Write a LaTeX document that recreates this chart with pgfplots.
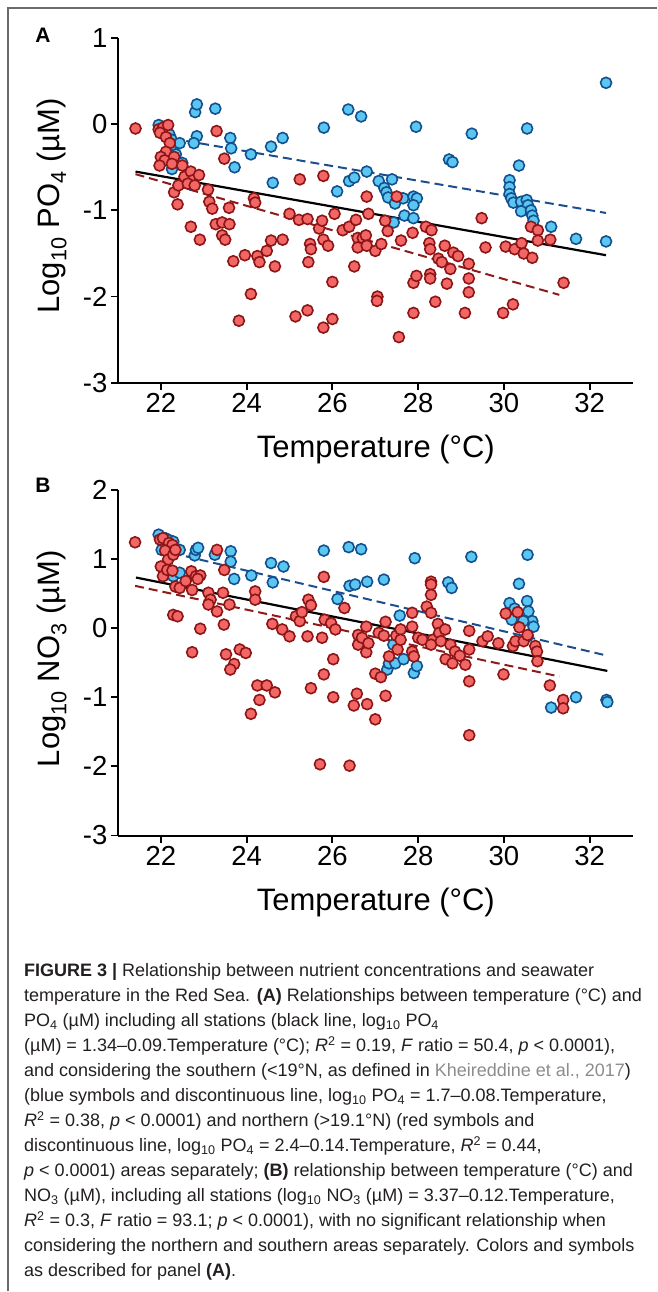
\documentclass[border=0pt]{standalone}
\usepackage{fontspec}
\setmainfont{Liberation Sans}
\usepackage{pgfplots}
\usepackage{pgfplotstable}
\pgfplotsset{compat=1.18}

\definecolor{bfill}{HTML}{5CC6F2}
\definecolor{bedge}{HTML}{12508E}
\definecolor{rfill}{HTML}{F26666}
\definecolor{redge}{HTML}{8E1515}
\definecolor{bline}{HTML}{1C4E8E}
\definecolor{rline}{HTML}{8E1A1A}
\definecolor{captxt}{HTML}{231F20}
\definecolor{linkgray}{HTML}{8C8C8C}
\definecolor{framegray}{HTML}{6A6A6A}

% panel A: south stations (blue)
\pgfplotstableread{
x y
21.95 -0.01
22.05 -0.05
22.12 -0.08
22.20 -0.12
22.25 -0.18
22.30 -0.25
22.35 -0.35
22.26 -0.52
22.44 -0.22
22.50 -0.45
22.70 -0.70
22.80 0.14
22.84 0.23
22.84 -0.14
22.77 -0.22
23.27 0.18
23.62 -0.16
23.64 -0.28
23.72 -0.50
24.10 -0.35
24.57 -0.26
24.84 -0.16
24.61 -0.68
25.80 -0.04
26.11 -0.78
26.37 0.17
26.67 0.09
26.39 -0.66
26.51 -0.62
26.80 -0.55
27.08 -0.66
27.21 -0.74
27.26 -0.79
27.30 -0.85
27.39 -0.64
27.46 -0.92
27.43 -1.14
27.65 -0.86
27.68 -1.06
27.89 -0.84
27.97 -0.86
27.89 -0.94
27.89 -1.09
27.95 -0.03
28.72 -0.41
28.80 -0.44
29.25 -0.11
30.54 -0.05
30.35 -0.48
30.13 -0.65
30.13 -0.73
30.13 -0.81
30.17 -0.86
30.22 -0.91
30.40 -0.90
30.53 -0.88
30.56 -0.94
30.40 -1.01
30.63 -1.00
30.66 -1.06
30.69 -1.12
31.10 -1.19
31.68 -1.33
32.38 -1.36
32.38 0.48
}\poblue

% panel A: north stations (red)
\pgfplotstableread{
x y
21.41 -0.05
21.95 -0.06
22.05 -0.04
22.17 -0.01
21.98 -0.10
22.12 -0.15
22.21 -0.22
22.12 -0.32
22.00 -0.38
22.09 -0.42
21.97 -0.48
22.31 -0.38
22.26 -0.46
22.50 -0.48
22.31 -0.79
22.41 -0.71
22.39 -0.93
22.55 -0.61
22.70 -0.55
22.75 -0.65
22.89 -0.59
22.63 -0.69
22.79 -0.71
22.70 -1.19
22.91 -1.34
23.10 -0.76
23.13 -0.90
23.20 -0.98
23.30 -0.08
23.48 -0.40
23.28 -1.16
23.43 -1.14
23.59 -0.97
23.60 -1.16
23.43 -1.29
23.50 -1.34
23.69 -1.59
23.82 -2.28
23.96 -1.52
24.10 -1.97
24.17 -0.86
24.20 -0.91
24.25 -1.53
24.30 -1.60
24.47 -1.47
24.57 -1.35
24.66 -1.65
24.84 -1.34
25.00 -1.04
25.14 -2.23
25.42 -2.16
25.22 -1.11
25.42 -1.10
25.24 -0.64
25.44 -1.60
25.48 -1.39
25.50 -1.45
25.69 -1.21
25.76 -1.12
25.79 -1.34
25.90 -1.41
25.79 -0.60
25.79 -2.36
26.00 -2.26
26.00 -1.83
26.05 -1.04
26.24 -1.23
26.39 -1.19
26.55 -1.11
26.51 -1.65
26.59 -1.32
26.59 -1.43
26.71 -1.32
26.78 -1.29
26.80 -1.41
26.80 -0.84
26.84 -1.04
27.00 -1.47
27.05 -2.00
27.04 -2.05
27.14 -1.39
27.23 -1.12
27.29 -1.24
27.50 -0.84
27.55 -2.47
27.60 -1.35
27.87 -1.26
27.89 -1.84
27.96 -1.76
27.89 -2.19
28.18 -1.19
28.31 -1.23
28.26 -1.38
28.28 -1.45
28.28 -1.74
28.28 -1.79
28.40 -2.06
28.47 -1.56
28.55 -1.60
28.62 -1.41
28.75 -1.68
28.67 -1.85
28.82 -1.49
28.93 -1.53
29.09 -2.19
29.18 -1.62
29.18 -1.79
29.18 -1.95
29.48 -1.09
29.57 -1.43
29.98 -2.19
30.21 -2.09
30.04 -1.42
30.25 -1.45
30.41 -1.38
30.46 -1.50
30.63 -1.19
30.79 -1.23
30.66 -1.55
30.79 -1.35
31.08 -1.34
31.39 -1.84
}\pored

% panel B: south stations (blue)
\pgfplotstableread{
x y
21.95 1.35
22.10 1.30
22.20 1.27
22.29 1.25
22.02 1.13
22.44 1.13
22.29 0.75
22.44 0.80
22.79 1.05
22.82 1.13
22.87 1.16
23.26 1.06
23.63 1.11
23.63 0.96
23.71 0.71
24.11 0.76
24.57 0.94
24.86 0.89
24.61 0.66
25.80 1.12
26.12 0.42
26.38 1.17
26.67 1.14
26.40 0.61
26.53 0.63
26.81 0.67
27.20 0.70
27.28 -0.60
27.32 -0.51
27.47 -0.51
27.42 -0.24
27.57 0.18
27.66 -0.45
27.90 -0.65
27.97 -0.55
27.92 1.01
28.70 0.66
28.78 0.58
29.24 1.03
30.55 1.06
30.35 0.64
30.13 0.36
30.18 0.12
30.25 0.28
30.54 0.39
30.57 0.24
30.66 0.10
30.69 0.02
30.45 0.10
30.55 -0.12
31.10 -1.15
31.68 -1.00
32.39 -1.04
32.41 -1.07
}\noblue

% panel B: north stations (red)
\pgfplotstableread{
x y
21.40 1.24
21.98 1.28
22.05 1.30
22.19 1.23
22.27 1.20
22.10 1.12
22.17 0.99
22.29 1.06
22.34 1.13
22.00 0.89
22.05 0.75
22.15 0.84
22.27 0.83
22.34 0.60
22.44 0.58
22.29 0.19
22.39 0.17
22.58 0.68
22.71 0.82
22.82 0.75
22.92 0.76
22.73 0.55
22.86 0.71
22.73 -0.35
22.92 -0.01
23.11 0.51
23.16 0.41
23.11 0.34
23.31 0.24
23.31 1.13
23.48 0.84
23.45 0.51
23.47 0.05
23.60 0.34
23.52 -0.38
23.71 -0.52
23.62 -0.60
23.84 -0.31
23.98 -0.36
24.10 -1.24
24.20 0.53
24.20 0.41
24.25 -0.83
24.30 -1.04
24.47 -0.83
24.66 -0.93
24.60 0.06
24.83 -0.02
25.00 -0.12
25.15 0.17
25.24 0.10
25.29 0.23
25.44 0.41
25.50 0.33
25.42 -0.12
25.50 -0.87
25.76 -0.14
25.80 0.74
25.80 -0.67
25.71 -1.97
26.40 -1.99
25.82 0.12
25.97 0.07
26.02 -1.00
26.02 -0.45
26.07 -0.02
26.28 0.29
26.50 -1.12
26.57 -0.95
26.60 -0.10
26.60 -0.24
26.69 -0.14
26.79 -0.35
26.84 -0.22
26.79 0.02
26.81 -1.10
27.00 -1.32
27.00 -0.66
27.13 -0.71
27.08 -0.07
27.20 -0.11
27.24 0.09
27.24 -0.98
27.32 -0.41
27.49 -0.11
27.52 -0.31
27.59 -0.02
27.59 -0.17
27.86 0.22
27.86 0.02
27.86 -0.34
27.90 -0.41
28.00 -0.14
28.10 -0.17
28.20 0.31
28.30 0.22
28.30 0.67
28.30 0.63
28.30 0.48
28.34 -0.17
28.30 -0.24
28.46 0.06
28.49 -0.07
28.63 -0.02
28.53 -0.19
28.64 -0.45
28.80 -0.51
28.75 -0.24
28.86 -0.34
28.97 -0.40
29.10 -0.53
29.19 -0.04
29.19 -0.31
29.19 -0.77
29.19 -1.55
29.50 -0.19
29.62 -0.12
29.87 -0.22
29.99 -0.67
30.04 0.21
30.21 -0.26
30.27 -0.19
30.32 0.23
30.36 0.01
30.46 -0.19
30.55 -0.10
30.73 -0.26
30.77 -0.34
30.78 -0.48
31.07 -0.83
31.38 -1.04
31.38 -1.16
}\nored

\pgfplotsset{
  panel/.style={
    scale only axis, width=515pt,
    xmin=21, xmax=33,
    axis x line*=bottom, axis y line*=left,
    axis line style={line width=2pt, black, -},
    every tick/.style={line width=1.8pt, black},
    major tick length=7pt, tick align=outside,
    xtick={22,24,26,28,30,32},
    xticklabels={22,24,26,28,30,32},
    tick label style={font=\fontsize{27.5}{27.5}\selectfont, text=black},
    anchor=south west,
  },
  bluepts/.style={only marks, mark=*, mark size=5.5pt,
    mark options={fill=bfill, draw=bedge, line width=1.6pt}},
  redpts/.style={only marks, mark=*, mark size=5.5pt,
    mark options={fill=rfill, draw=redge, line width=1.6pt}},
}

\newcommand{\cl}[2]{\node[anchor=base west, inner sep=0pt, text=captxt,
  font=\fontsize{18}{18}\selectfont] at (24pt,-#1pt) {#2};}

\begin{document}
\begin{tikzpicture}
\path (0,0) rectangle (657pt,-1292pt);
\draw[framegray, line width=1.5pt] (8pt,-1292pt) -- (8pt,-8pt) -- (657pt,-8pt);

% ---- panel A
\node[anchor=base, font=\bfseries\fontsize{21}{21}\selectfont] at (43pt,-43pt) {A};
\begin{axis}[panel, at={(118pt,-383pt)}, height=345pt,
  ymin=-3, ymax=1, ytick={-3,-2,-1,0,1}, yticklabels={-3,-2,-1,0,1}]
\addplot[bluepts] table {\poblue};
\addplot[redpts] table {\pored};
\addplot[rline, line width=2pt, dash pattern=on 9pt off 5pt] coordinates {(21.41,-0.58) (31.29,-1.98)};
\addplot[bline, line width=2pt, dash pattern=on 9pt off 5pt] coordinates {(21.95,-0.14) (32.38,-1.03)};
\addplot[black, line width=2.2pt] coordinates {(21.41,-0.55) (32.38,-1.52)};
\end{axis}
\node[rotate=90, font=\fontsize{31}{31}\selectfont] at (52pt,-206pt) {Log\textsubscript{10} PO\textsubscript{4} (µM)};
\node[anchor=base, font=\fontsize{31}{31}\selectfont] at (376pt,-458pt) {Temperature (°C)};

% ---- panel B
\node[anchor=base, font=\bfseries\fontsize{21}{21}\selectfont] at (43pt,-493pt) {B};
\begin{axis}[panel, at={(118pt,-836pt)}, height=346pt,
  ymin=-3, ymax=2, ytick={-3,-2,-1,0,1,2}, yticklabels={-3,-2,-1,0,1,2}]
\addplot[bluepts] table {\noblue};
\addplot[redpts] table {\nored};
\addplot[rline, line width=2pt, dash pattern=on 9pt off 5pt] coordinates {(21.40,0.61) (31.29,-0.70)};
\addplot[bline, line width=2pt, dash pattern=on 9pt off 5pt] coordinates {(21.95,1.13) (32.41,-0.40)};
\addplot[black, line width=2.2pt] coordinates {(21.42,0.73) (32.41,-0.62)};
\end{axis}
\node[rotate=90, font=\fontsize{31}{31}\selectfont] at (52pt,-659pt) {Log\textsubscript{10} NO\textsubscript{3} (µM)};
\node[anchor=base, font=\fontsize{31}{31}\selectfont] at (376pt,-911pt) {Temperature (°C)};

% ---- caption
\cl{977}{\textbf{FIGURE 3 |} Relationship between nutrient concentrations and seawater}
\cl{1002}{temperature in the Red Sea. \textbf{(A)} Relationships between temperature (°C) and}
\cl{1027}{PO\textsubscript{4} (µM) including all stations (black line, log\textsubscript{10} PO\textsubscript{4}}
\cl{1052}{(µM) = 1.34–0.09.Temperature (°C); \textit{R}\textsuperscript{2} = 0.19, \textit{F} ratio = 50.4, \textit{p} < 0.0001),}
\cl{1077}{and considering the southern (<19°N, as defined in \textcolor{linkgray}{Kheireddine et al., 2017})}
\cl{1102}{(blue symbols and discontinuous line, log\textsubscript{10} PO\textsubscript{4} = 1.7–0.08.Temperature,}
\cl{1127}{\textit{R}\textsuperscript{2} = 0.38, \textit{p} < 0.0001) and northern (>19.1°N) (red symbols and}
\cl{1152}{discontinuous line, log\textsubscript{10} PO\textsubscript{4} = 2.4–0.14.Temperature, \textit{R}\textsuperscript{2} = 0.44,}
\cl{1177}{\textit{p} < 0.0001) areas separately; \textbf{(B)} relationship between temperature (°C) and}
\cl{1202}{NO\textsubscript{3} (µM), including all stations (log\textsubscript{10} NO\textsubscript{3} (µM) = 3.37–0.12.Temperature,}
\cl{1227}{\textit{R}\textsuperscript{2} = 0.3, \textit{F} ratio = 93.1; \textit{p} < 0.0001), with no significant relationship when}
\cl{1252}{considering the northern and southern areas separately. Colors and symbols}
\cl{1277}{as described for panel \textbf{(A)}.}
\end{tikzpicture}
\end{document}
